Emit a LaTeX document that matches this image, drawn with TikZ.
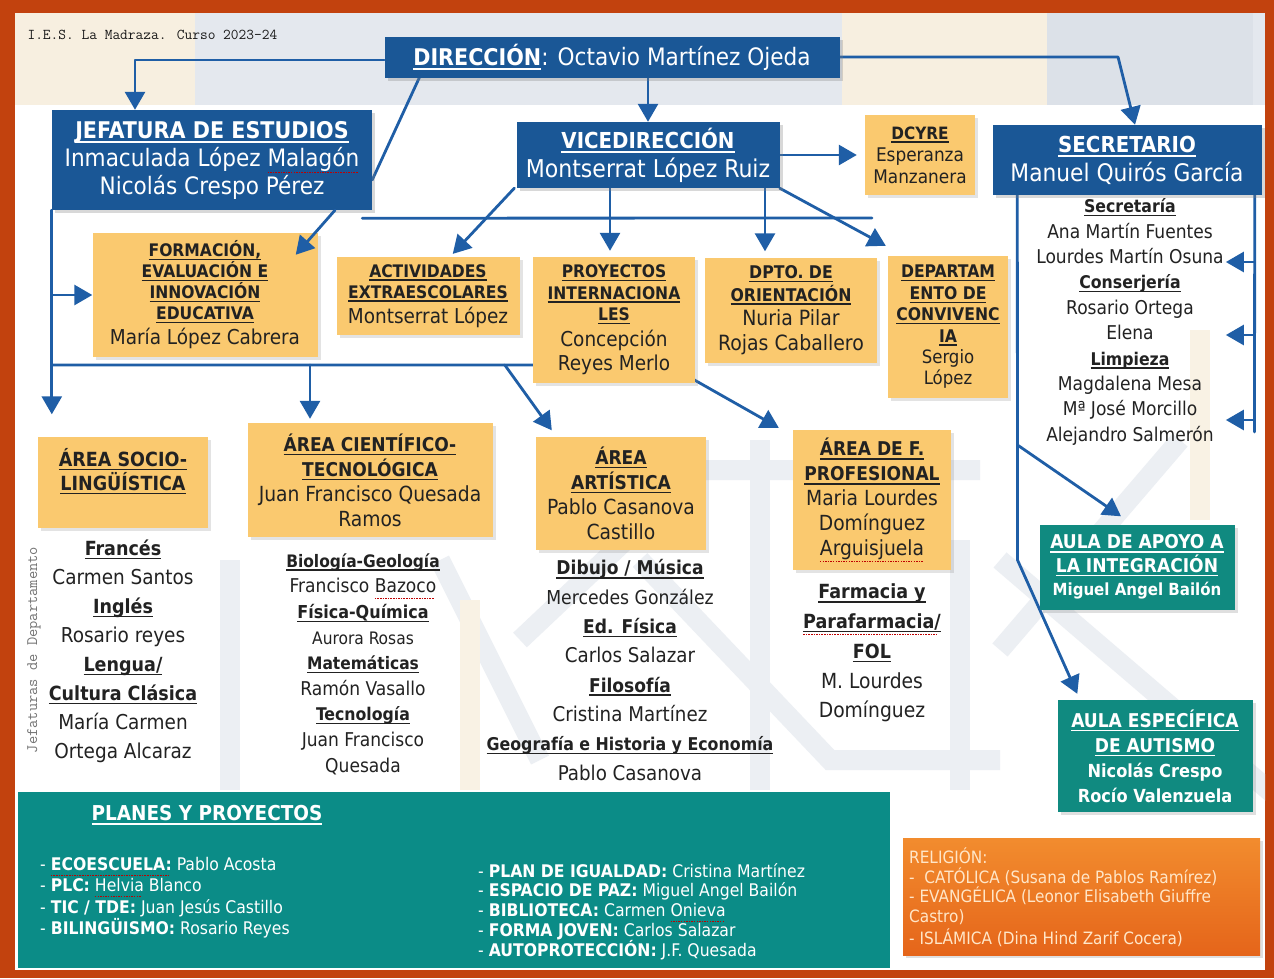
\documentclass[tikz,border=0pt]{standalone}
\usepackage{fontspec}
\setmainfont{DejaVu Sans Condensed}
\usetikzlibrary{arrows.meta,shadows,calc}
\pgfdeclarelayer{bg}
\pgfdeclarelayer{lines}
\pgfsetlayers{bg,lines,main}
\definecolor{dblue}{HTML}{1A5796}
\definecolor{lineblue}{HTML}{1F5EA6}
\definecolor{ybox}{HTML}{FAC96F}
\definecolor{tealA}{HTML}{108A80}
\definecolor{tealB}{HTML}{0B8C87}
\definecolor{frameC}{HTML}{C2420E}
\definecolor{religTop}{HTML}{F28C2E}
\definecolor{religBot}{HTML}{E5651A}
\definecolor{religTxt}{HTML}{FFE6C8}
\definecolor{txt}{HTML}{222222}
\definecolor{bandA}{HTML}{F7EFE0}
\definecolor{bandB}{HTML}{E4E8EE}
\definecolor{bandC}{HTML}{DCE1E8}
\definecolor{patt}{HTML}{ECEFF3}
\definecolor{pattY}{HTML}{F9F2E4}
\newcommand{\fs}[2]{\fontsize{#1}{#2}\selectfont}
\newcommand{\uln}[1]{{\setbox0\hbox{#1}\rlap{\rule[-0.2em]{\wd0}{0.075em}}\box0}}
\newcommand{\hd}[2]{{\fontsize{#1}{#1}\selectfont\uln{\textbf{#2}}}}
\newcommand{\spl}[1]{{\setbox0\hbox{#1}\rlap{\color{red!75!black}\raisebox{-0.3em}{\hbox to \wd0{\leaders\hbox to 2.6pt{\rule{1.5pt}{1pt}\hss}\hfill}}}\box0}}
\begin{document}
\begin{tikzpicture}[x=1pt,y=-1pt,
  bluebox/.style={fill=dblue,text=white,align=center,inner sep=0pt,drop shadow={opacity=0.3,shadow xshift=3pt,shadow yshift=-3pt}},
  ybx/.style={fill=ybox,text=txt,align=center,inner sep=0pt,drop shadow={opacity=0.22,shadow xshift=3pt,shadow yshift=-3pt}},
  tbx/.style={fill=tealA,text=white,align=center,inner sep=0pt,drop shadow={opacity=0.25,shadow xshift=3pt,shadow yshift=-3pt}},
  list/.style={text=txt,align=center,inner sep=0pt},
  link/.style={draw=lineblue,line width=2.8pt,line cap=round,line join=round},
  conn/.style={link,-{Triangle[length=18pt,width=20pt]}},
  patline/.style={line width=20pt,draw=patt},
]
\useasboundingbox (0,0) rectangle (1274,978);
\begin{pgfonlayer}{bg}
% frame and background
\fill[frameC] (0,0) rectangle (1274,978);
\fill[white] (15,13) rectangle (1265,970);
\fill[bandA] (15,13) rectangle (195,105);
\fill[bandB] (195,13) rectangle (842,105);
\fill[bandA] (842,13) rectangle (1047,105);
\fill[bandC] (1047,13) rectangle (1253,105);
\fill[bandB] (1253,13) rectangle (1265,105);
% faint lattice
\begin{scope}
\clip (15,105) rectangle (1265,970);
\draw[patline] (520,640) -- (700,470) -- (980,470);
\draw[patline] (640,560) -- (830,760) -- (1000,760);
\draw[patline] (760,440) -- (760,790);
\draw[patline] (960,540) -- (960,790);
\draw[patline] (1000,560) -- (1280,800);
\draw[patline] (1180,440) -- (1000,650);
\draw[patline] (230,560) -- (230,790);
\draw[patline] (440,560) -- (540,760);
\draw[patline,draw=pattY] (470,600) -- (470,790);
\draw[patline,draw=pattY] (1200,330) -- (1200,520);
\end{scope}
\end{pgfonlayer}

% title texts
\node[anchor=west,font=\ttfamily\fs{15}{16},text=black!90] (title) at (24,35) {I.E.S. La Madraza. Curso 2023-24};
\node[rotate=90,font=\ttfamily\fs{16}{17},text=black!55] (jefDep) at (34,650) {Jefaturas de Departamento};

% main boxes
\node[bluebox,minimum width=455pt,minimum height=41pt,font=\fs{24}{28}] (dir) at (612,57) {\hd{23}{DIRECCIÓN}: Octavio Martínez Ojeda};
\node[bluebox,minimum width=320pt,minimum height=100pt,font=\fs{24}{28}] (jef) at (212,160) {\hd{23}{JEFATURA DE ESTUDIOS}\\Inmaculada López \spl{Malagón}\\Nicolás Crespo Pérez};
\node[bluebox,minimum width=263pt,minimum height=66pt,font=\fs{24.5}{29}] (vice) at (648,155) {\hd{22}{VICEDIRECCIÓN}\\Montserrat López Ruiz};
\node[ybx,minimum width=110pt,minimum height=80pt,font=\fs{18.8}{22}] (dcyre) at (920,155) {\hd{17}{DCYRE}\\Esperanza\\Manzanera};
\node[bluebox,minimum width=269pt,minimum height=70pt,font=\fs{24.2}{29}] (sec) at (1127,160) {\hd{22}{SECRETARIO}\\Manuel Quirós García};

% first row
\node[ybx,minimum width=225pt,minimum height=124pt,font=\fs{20.5}{21}] (form) at (205,295) {\hd{17.3}{FORMACIÓN,}\\\hd{17.3}{EVALUACIÓN E}\\\hd{17.3}{INNOVACIÓN}\\\hd{17.3}{EDUCATIVA}\\[4pt]María López Cabrera};
\node[ybx,minimum width=183pt,minimum height=78pt,font=\fs{20.5}{21}] (act) at (428,296) {\hd{17.3}{ACTIVIDADES}\\\hd{17.3}{EXTRAESCOLARES}\\[4pt]Montserrat López};
\node[ybx,minimum width=162pt,minimum height=126pt,font=\fs{20.5}{21.5}] (proy) at (614,320) {\hd{17.3}{PROYECTOS}\\\hd{17.3}{INTERNACIONA}\\\hd{17.3}{LES}\\[4pt]Concepción\\[3pt]Reyes Merlo};
\node[ybx,minimum width=172pt,minimum height=105pt,font=\fs{21}{22.5}] (orient) at (791,310) {\hd{17.5}{DPTO. DE}\\\hd{17.5}{ORIENTACIÓN}\\[2pt]Nuria Pilar\\[2pt]Rojas Caballero};
\node[ybx,minimum width=120pt,minimum height=142pt,font=\fs{18.4}{21.4}] (conv) at (948,327) {\hd{17.4}{DEPARTAM}\\\hd{17.4}{ENTO DE}\\\hd{17.4}{CONVIVENC}\\\hd{17.4}{IA}\\Sergio\\López};

% area row
\node[ybx,minimum width=170pt,minimum height=91pt] (socio) at (123,482) {};
\node[list,font=\fs{19.5}{24}] (socioT) at (123,471) {\hd{19.5}{ÁREA SOCIO-}\\\hd{19.5}{LINGÜÍSTICA}};
\node[ybx,minimum width=245pt,minimum height=114pt,font=\fs{20.8}{25}] (cient) at (370,480) {\hd{19}{ÁREA CIENTÍFICO-}\\\hd{19}{TECNOLÓGICA}\\Juan Francisco Quesada\\Ramos};
\node[ybx,minimum width=170pt,minimum height=113pt,font=\fs{20.8}{25}] (art) at (621,493) {\hd{19}{ÁREA}\\\hd{19}{ARTÍSTICA}\\Pablo Casanova\\Castillo};
\node[ybx,minimum width=158pt,minimum height=140pt,font=\fs{20.8}{25}] (fprof) at (872,500) {\hd{19}{ÁREA DE F.}\\\hd{19}{PROFESIONAL}\\Maria Lourdes\\Domínguez\\\spl{Arguisjuela}};

% lists
\node[list,font=\fs{19}{25.4}] (secList) at (1130,322) {\hd{17.5}{Secretaría}\\Ana Martín Fuentes\\Lourdes Martín Osuna\\\hd{17.5}{Conserjería}\\Rosario Ortega\\Elena\\\hd{17.5}{Limpieza}\\Magdalena Mesa\\Mª José Morcillo\\Alejandro Salmerón};
\node[list,font=\fs{20.5}{29}] (socioList) at (123,651) {\hd{19.5}{Francés}\\Carmen Santos\\\hd{19.5}{Inglés}\\Rosario reyes\\\hd{19.5}{Lengua/}\\\hd{19.5}{Cultura Clásica}\\María Carmen\\Ortega Alcaraz};
\node[list,font=\fs{19}{25.6}] (cientList) at (363,664) {\hd{17.2}{Biología-Geología}\\Francisco \spl{Bazoco}\\\hd{17.8}{Física-Química}\\{\fs{17.2}{25.6}Aurora Rosas}\\\hd{17.2}{Matemáticas}\\Ramón Vasallo\\\hd{17.5}{Tecnología}\\Juan Francisco\\Quesada};
\node[list,font=\fs{20.3}{29.3}] (artList) at (630,670) {\hd{19}{Dibujo / Música}\\{\fs{19.2}{29.3}Mercedes González}\\\hd{19}{Ed. Física}\\Carlos Salazar\\\hd{19}{Filosofía}\\Cristina Martínez\\\hd{17.6}{Geografía e Historia y Economía}\\Pablo Casanova};
\node[list,font=\fs{20.8}{29.8}] (fprofList) at (872,653) {\hd{19.5}{Farmacia y}\\\spl{\hd{19.5}{Parafarmacia/}}\\\hd{19.5}{FOL}\\M. Lourdes\\Domínguez};

% teal boxes
\node[tbx,minimum width=195pt,minimum height=85pt,font=\fs{16.7}{23.5}] (apoyo) at (1137,567) {\hd{19}{AULA DE APOYO A}\\\hd{19}{LA INTEGRACIÓN}\\\textbf{Miguel Angel Bailón}};
\node[tbx,minimum width=195pt,minimum height=112pt,font=\fs{18}{25}] (autismo) at (1155,756) {\hd{19}{AULA ESPECÍFICA}\\\hd{19}{DE AUTISMO}\\\textbf{Nicolás Crespo}\\\textbf{Rocío Valenzuela}};

% planes y proyectos
\node[fill=tealB,minimum width=872pt,minimum height=176pt,inner sep=0pt,anchor=north west] (planes) at (18,792) {};
\node[text=white,font=\fs{20.5}{24}] (planesT) at (207,815) {\uln{\textbf{PLANES Y PROYECTOS}}};
\node[text=white,align=left,anchor=north west,font=\fs{17.4}{21.3},inner sep=0pt] (planesL) at (40,857) {- \spl{\textbf{ECOESCUELA:}} Pablo Acosta\\- \textbf{PLC:} \spl{Helvia} Blanco\\- \textbf{TIC / TDE:} Juan Jesús Castillo\\- \textbf{BILINGÜISMO:} Rosario Reyes};
\node[text=white,align=left,anchor=north west,font=\fs{17.4}{19.8},inner sep=0pt] (planesR) at (478,863) {- \textbf{PLAN DE IGUALDAD:} Cristina Martínez\\- \textbf{ESPACIO DE PAZ:} Miguel Angel Bailón\\- \textbf{BIBLIOTECA:} Carmen \spl{Onieva}\\- \textbf{FORMA JOVEN:} Carlos Salazar\\- \textbf{AUTOPROTECCIÓN:} J.F. Quesada};

% religion
\node[top color=religTop,bottom color=religBot,minimum width=357pt,minimum height=117pt,inner sep=0pt,anchor=north west,drop shadow={opacity=0.25,shadow xshift=3pt,shadow yshift=-3pt}] (relig) at (903,838) {};
\node[text=religTxt,align=left,anchor=north west,font=\fs{17}{19.5},inner sep=0pt] (religT) at (909,848) {RELIGIÓN:\\-\ \ CATÓLICA (Susana de Pablos Ramírez)\\- EVANGÉLICA (Leonor Elisabeth Giuffre\\Castro)\\[3pt]- ISLÁMICA (Dina Hind Zarif Cocera)};

% connectors
\begin{pgfonlayer}{lines}
\draw[conn] ([yshift=-3pt]dir.west) -| ([xshift=-77pt]jef.north);
\coordinate (dR) at (1118,57);
\draw[conn] (dir.east) -- (dR) -- ([xshift=8pt]sec.north);
\draw[conn] (vice.north |- dir.south) -- (vice.north);
\draw[link] ([xshift=35pt]dir.south west) -- ([yshift=-20pt]jef.east);
\draw[conn,shorten >=8pt] (vice.east) -- (dcyre.west);
\draw[conn,shorten >=22pt] (jef.south west) -- (jef.south west |- socio.north);
\draw[conn] (jef.south west |- form.west) -- (form.west);
\coordinate (hT) at (872,218);
\draw[link] ([xshift=-10pt,yshift=-8pt]jef.south east) -- (hT);
\draw[conn,shorten >=4pt] ([xshift=-2pt]vice.south west) -- ([xshift=22pt]act.north);
\draw[conn,shorten >=6pt] ([xshift=-4pt]proy.north |- vice.south) -- ([xshift=-4pt]proy.north);
\draw[conn,shorten >=6pt] ([xshift=-26pt]orient.north |- vice.south) -- ([xshift=-26pt]orient.north);
\draw[conn] (vice.south east) -- ([xshift=-2pt,yshift=10pt]conv.north west);
\coordinate (hM2) at (668,365);
\draw[conn] (jef.south west |- hM2) -- (hM2) -- ([xshift=-14pt,yshift=2pt]fprof.north west);
\draw[conn,shorten >=4pt] ([xshift=-60pt]cient.north |- hM2) -- ([xshift=-60pt]cient.north);
\draw[conn] ([xshift=-31pt]art.north west |- hM2) -- ([xshift=16pt,yshift=6pt]art.north west);
\coordinate (sL1) at (1017.5,560);
\coordinate (sL0) at (1017.5,445);
\draw[conn] ([xshift=25pt]sec.south west) -- (sL1) -- ([xshift=20pt,yshift=6pt]autismo.north west);
\draw[conn] (sL0) -- ([xshift=-16pt,yshift=8pt]apoyo.north);
\coordinate (sR) at (1254.5,432);
\draw[link] ([xshift=-7pt]sec.south east) -- (sR);
\draw[conn] (sR |- 0,262) -- ([xshift=2pt]secList.east |- 0,262);
\draw[conn] (sR |- 0,335) -- ([xshift=2pt]secList.east |- 0,335);
\draw[conn] (sR |- 0,420) -- ([xshift=2pt]secList.east |- 0,420);
\end{pgfonlayer}
\draw[conn] ([xshift=123pt]jef.south) -- ([xshift=-22pt,yshift=-22pt]form.north east);
\end{tikzpicture}
\end{document}
